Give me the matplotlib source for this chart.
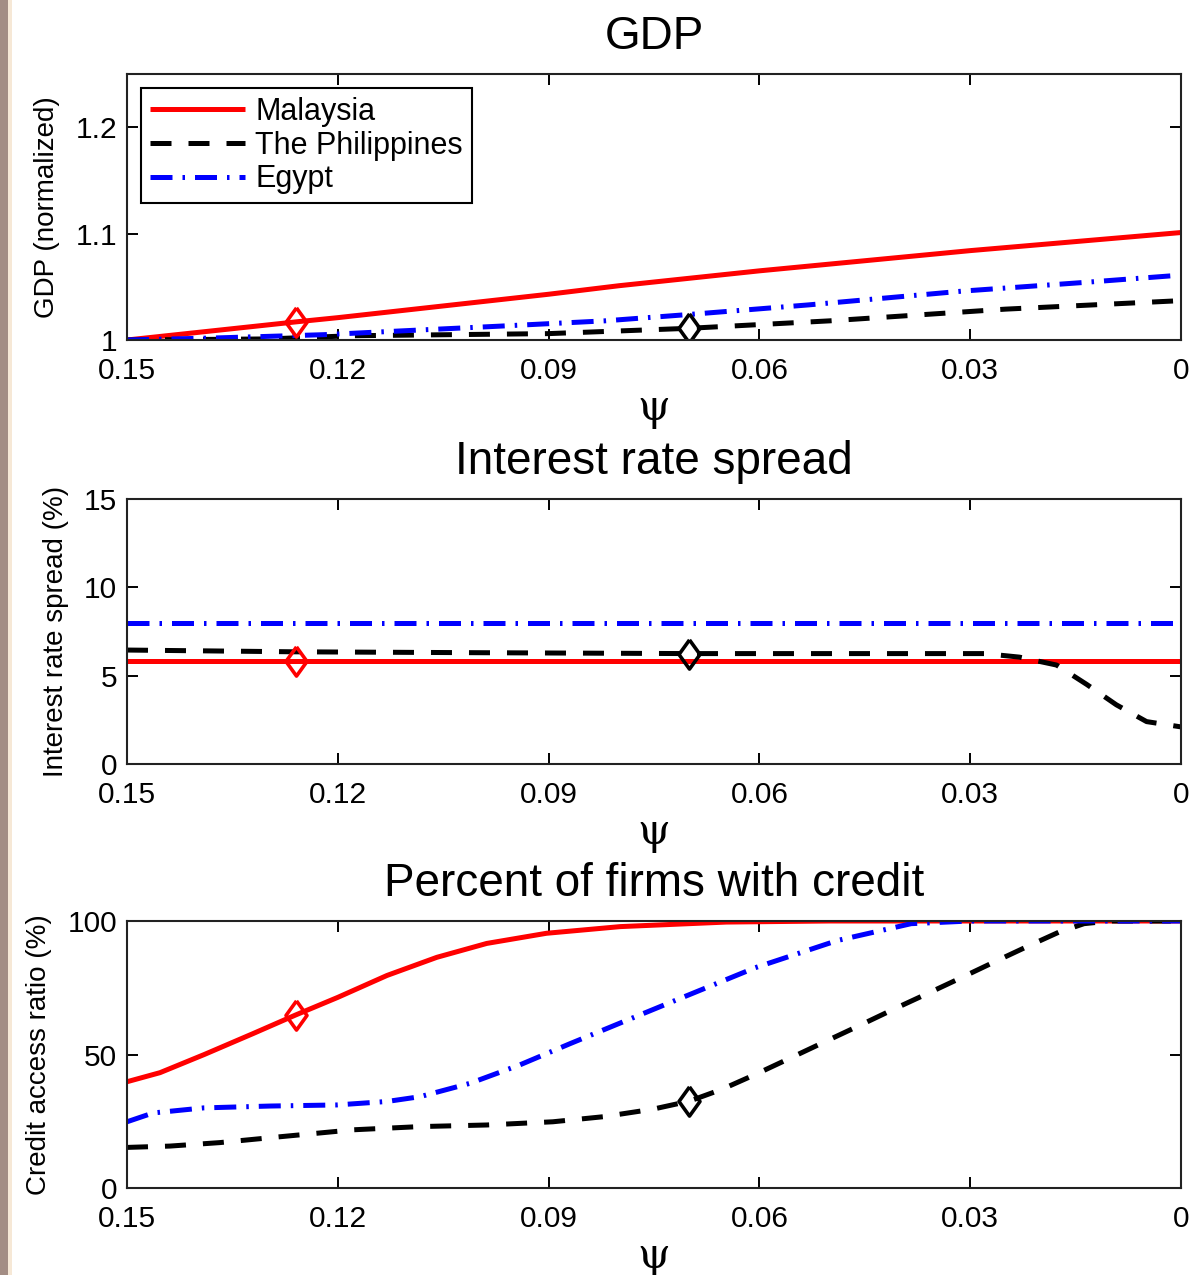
import matplotlib
matplotlib.use("Agg")
import matplotlib.pyplot as plt
from matplotlib.patches import Rectangle

plt.rcParams['font.family'] = ['Liberation Sans', 'DejaVu Sans']

countries = ['Malaysia', 'The Philippines', 'Egypt']

# GDP (normalized) against psi
gdp_psi_my = [0.15, 0.126, 0.12, 0.09, 0.08, 0.06, 0.03, 0.0]
gdp_my = [1.000, 1.017, 1.021, 1.043, 1.051, 1.065, 1.084, 1.101]
gdp_psi_ph = [0.15, 0.13, 0.118, 0.104, 0.09, 0.07, 0.05, 0.025, 0.0]
gdp_ph = [1.000, 1.001, 1.004, 1.005, 1.006, 1.011, 1.018, 1.029, 1.037]
gdp_psi_eg = [0.15, 0.137, 0.122, 0.108, 0.097, 0.082, 0.07, 0.053, 0.031, 0.014, 0.0]
gdp_eg = [1.000, 1.002, 1.005, 1.0095, 1.013, 1.018, 1.024, 1.033, 1.046, 1.054, 1.061]

# interest rate spread (%)
spr_psi_my = [0.15, 0.126, 0.0]
spr_my = [5.85, 5.85, 5.85]
spr_psi_ph = [0.15, 0.126, 0.10, 0.07, 0.045, 0.028, 0.023, 0.0177, 0.0134, 0.0092, 0.0049, 0.0]
spr_ph = [6.45, 6.35, 6.30, 6.25, 6.25, 6.25, 6.05, 5.60, 4.50, 3.35, 2.40, 2.10]
spr_psi_eg = [0.15, 0.0]
spr_eg = [8.0, 8.0]

# credit access ratio (%)
cr_psi_my = [0.15, 0.1453, 0.139, 0.132, 0.126, 0.12, 0.113, 0.1059, 0.0988, 0.0903,
             0.0798, 0.0647, 0.05, 0.0]
cr_my = [39.8, 43.2, 50.0, 57.9, 64.8, 71.4, 79.6, 86.4, 91.6, 95.4, 97.9, 99.6, 100, 100]
cr_psi_ph = [0.15, 0.1439, 0.1368, 0.1282, 0.1178, 0.1083, 0.0988, 0.0894, 0.0822, 0.0752,
             0.07, 0.0653, 0.0606, 0.0559, 0.0501, 0.0454, 0.0407, 0.0361, 0.0314, 0.0267,
             0.022, 0.0174, 0.0138, 0.01, 0.0]
cr_ph = [15.2, 15.7, 17.0, 19.2, 21.8, 23.0, 23.6, 24.8, 26.7, 29.5,
         32.5, 37.0, 42.5, 48.3, 55.5, 61.3, 67.2, 72.8, 78.6, 84.5,
         90.3, 95.8, 99.0, 100, 100]
cr_psi_eg = [0.15, 0.1463, 0.1391, 0.1296, 0.1202, 0.113, 0.1083, 0.1012, 0.0941, 0.087,
             0.0798, 0.0723, 0.0606, 0.0489, 0.0384, 0.03, 0.0]
cr_eg = [24.8, 28.1, 30.0, 30.7, 31.1, 32.4, 34.2, 39.2, 46.1, 54.0,
         61.8, 69.9, 82.5, 92.7, 99.0, 100, 100]

# calibrated points (diamonds)
mark_psi_my = 0.126
mark_psi_ph = 0.07

x_ticks = [0.15, 0.12, 0.09, 0.06, 0.03, 0.0]
x_ticklabels = ['0.15', '0.12', '0.09', '0.06', '0.03', '0']

panels = [
    dict(title='GDP', ylabel='GDP (normalized)', ylim=(1.0, 1.25),
         yticks=[1.0, 1.1, 1.2], yticklabels=['1', '1.1', '1.2'],
         my=(gdp_psi_my, gdp_my), ph=(gdp_psi_ph, gdp_ph), eg=(gdp_psi_eg, gdp_eg)),
    dict(title='Interest rate spread', ylabel='Interest rate spread (%)', ylim=(0, 15),
         yticks=[0, 5, 10, 15], yticklabels=['0', '5', '10', '15'],
         my=(spr_psi_my, spr_my), ph=(spr_psi_ph, spr_ph), eg=(spr_psi_eg, spr_eg)),
    dict(title='Percent of firms with credit', ylabel='Credit access ratio (%)', ylim=(0, 100),
         yticks=[0, 50, 100], yticklabels=['0', '50', '100'],
         my=(cr_psi_my, cr_my), ph=(cr_psi_ph, cr_ph), eg=(cr_psi_eg, cr_eg)),
]

W, H = 1192, 1275
fig = plt.figure(figsize=(W / 100, H / 100), dpi=100)

# page edge strip on the left
fig.patches.append(Rectangle((0, 0), 8 / W, 1, transform=fig.transFigure,
                             facecolor='#a38d84', edgecolor='none', zorder=0))
fig.patches.append(Rectangle((8 / W, 0), 4 / W, 1, transform=fig.transFigure,
                             facecolor='#f6e8d6', edgecolor='none', zorder=0))

axes_px = [(74, 340), (499, 764), (921, 1188)]
left, right = 127, 1181
lw = 3.6
diamond = [(0, 1), (0.72, 0), (0, -1), (-0.72, 0), (0, 1)]


def interp(xs, ys, x0):
    for i in range(len(xs) - 1):
        a, b = xs[i], xs[i + 1]
        if min(a, b) <= x0 <= max(a, b):
            t = (x0 - a) / (b - a)
            return ys[i] + t * (ys[i + 1] - ys[i])
    return ys[-1]


for p, (top, bot) in zip(panels, axes_px):
    ax = fig.add_axes([left / W, 1 - bot / H, (right - left) / W, (bot - top) / H])
    mx, my_ = p['my']
    px, py = p['ph']
    ex, ey = p['eg']
    ax.plot(mx, my_, color='#ff0000', lw=lw, solid_capstyle='butt', label=countries[0])
    ax.plot(px, py, color='black', lw=lw, dashes=(4.2, 3.4), label=countries[1])
    ax.plot(ex, ey, color='#0000ff', lw=lw, dashes=(4.4, 2.0, 0.5, 2.0), label=countries[2])
    ax.plot([mark_psi_my], [interp(mx, my_, mark_psi_my)], marker=diamond, ms=21,
            mfc='none', mec='#ff0000', mew=2.6, ls='none')
    ax.plot([mark_psi_ph], [interp(px, py, mark_psi_ph)], marker=diamond, ms=21,
            mfc='none', mec='black', mew=2.6, ls='none')

    ax.set_xlim(0.15, 0.0)
    ax.set_ylim(*p['ylim'])
    ax.set_xticks(x_ticks)
    ax.set_xticklabels(x_ticklabels)
    ax.set_yticks(p['yticks'])
    ax.set_yticklabels(p['yticklabels'])
    ax.tick_params(direction='in', length=8, width=1.4, labelsize=21.5,
                   top=True, right=True, colors='black')
    ax.tick_params(axis='x', pad=12)
    ax.tick_params(axis='y', pad=7)
    for s in ax.spines.values():
        s.set_linewidth(1.5)
        s.set_color('#222222')
    ax.set_title(p['title'], fontsize=33, pad=18)
    ax.set_ylabel(p['ylabel'], fontsize=20, labelpad=11)
    ax.set_xlabel('\u03c8', fontsize=30, family='DejaVu Serif', labelpad=2)

    if p['title'] == 'GDP':
        leg = ax.legend(loc='upper left', fontsize=22, frameon=True, fancybox=False,
                        edgecolor='black', framealpha=1, handlelength=3.1,
                        handletextpad=0.35, labelspacing=0.12, borderpad=0.3,
                        borderaxespad=0.45)
        leg.get_frame().set_linewidth(1.5)

fig.savefig('out.png', dpi=100)
